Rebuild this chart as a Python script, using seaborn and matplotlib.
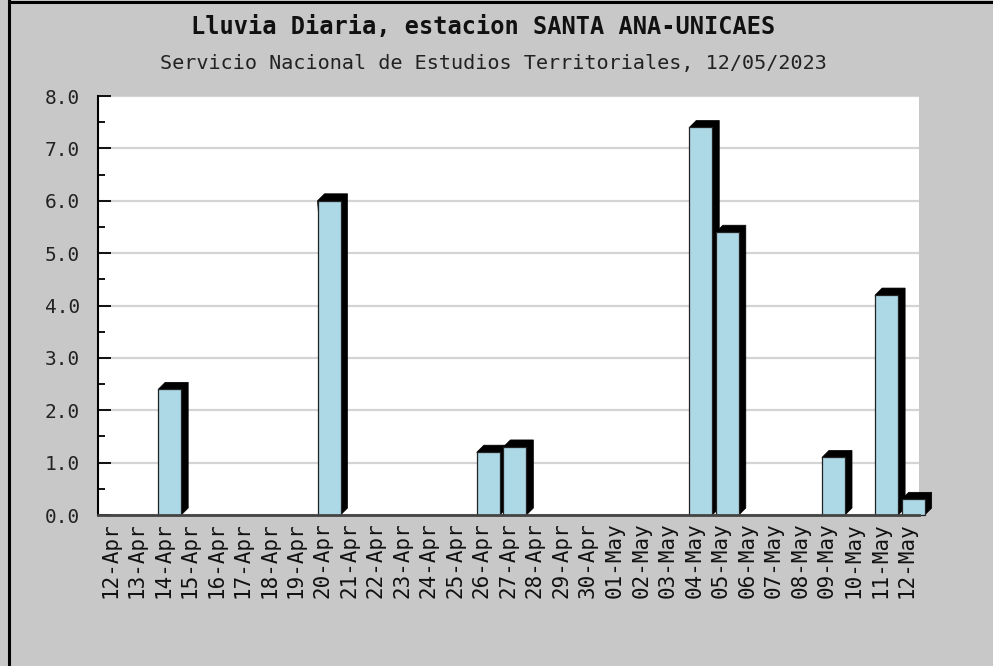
import numpy as np
import matplotlib
matplotlib.use("Agg")
import matplotlib.pyplot as plt
from matplotlib.patches import Polygon
from matplotlib.lines import Line2D
import seaborn as sns

# daily rain, 12-Apr .. 12-May 2023
dates = ["12-Apr", "13-Apr", "14-Apr", "15-Apr", "16-Apr", "17-Apr", "18-Apr",
         "19-Apr", "20-Apr", "21-Apr", "22-Apr", "23-Apr", "24-Apr", "25-Apr",
         "26-Apr", "27-Apr", "28-Apr", "29-Apr", "30-Apr", "01-May", "02-May",
         "03-May", "04-May", "05-May", "06-May", "07-May", "08-May", "09-May",
         "10-May", "11-May", "12-May"]
rain = [0.0, 0.0, 2.4, 0.0, 0.0, 0.0, 0.0,
        0.0, 6.0, 0.0, 0.0, 0.0, 0.0, 0.0,
        1.2, 1.3, 0.0, 0.0, 0.0, 0.0, 0.0,
        0.0, 7.4, 5.4, 0.0, 0.0, 0.0, 1.1,
        0.0, 4.2, 0.3]
yticks = [0, 1, 2, 3, 4, 5, 6, 7, 8]

title = "Lluvia Diaria, estacion SANTA ANA-UNICAES"
subtitle = "Servicio Nacional de Estudios Territoriales, 12/05/2023"

sns.set_style("white")
plt.rcParams['font.family'] = ['DejaVu Sans Mono', 'DejaVu Sans']

bg = "#c8c8c8"
fig = plt.figure(figsize=(9.93, 6.66), dpi=100, facecolor=bg)
ax = fig.add_axes([0.0987, 0.2267, 0.8268, 0.6291])
ax.set_facecolor("white")

sns.barplot(x=dates, y=rain, color="#add8e6", saturation=1, width=0.866,
            edgecolor="#222222", linewidth=0.9, ax=ax, zorder=3)

xmin, xmax = -0.70, 30.22
ax.set_xlim(xmin, xmax)
ax.set_ylim(0, 8)

# fake 3d block behind each bar (about 7 px right / up)
ax_w = 0.8268 * 993
ax_h = 0.6291 * 666
dx = 7 / (ax_w / (xmax - xmin))
dy = 7 / (ax_h / 8)
for p in ax.patches:
    h = p.get_height()
    p.set_clip_on(False)
    if h <= 0:
        continue
    x0 = p.get_x()
    x1 = x0 + p.get_width()
    shade = Polygon([(x0, h), (x0 + dx, h + dy), (x1 + dx, h + dy),
                     (x1 + dx, dy), (x1, 0)], closed=True,
                    facecolor="black", edgecolor="black", lw=0.5,
                    zorder=2.5, clip_on=False)
    ax.add_patch(shade)

ax.set_axisbelow(True)
ax.yaxis.grid(True, color="#d4d4d4", lw=1.6)
ax.xaxis.grid(False)

ax.set_yticks(yticks)
ax.set_yticklabels([f"{v:.1f}" for v in yticks])
ax.set_yticks(np.arange(0.5, 8, 1.0), minor=True)
ax.tick_params(axis="y", which="major", direction="in", length=9, width=1.3,
               color="black", pad=13, labelsize=14, labelcolor="#222222",
               left=True)
ax.tick_params(axis="y", which="minor", direction="in", length=5, width=1.3,
               color="black", left=True)

ax.set_xticks(np.arange(len(dates)) - 0.245)
ax.set_xticklabels(dates, rotation=90, va="top", ha="center")
ax.tick_params(axis="x", length=0, pad=5, labelsize=15, labelcolor="#111111")

for s in ["top", "right"]:
    ax.spines[s].set_visible(False)
ax.spines["left"].set_color("black")
ax.spines["left"].set_linewidth(1.5)
ax.spines["bottom"].set_color("#444444")
ax.spines["bottom"].set_linewidth(2)
ax.spines["bottom"].set_zorder(4)
ax.set_xlabel("")
ax.set_ylabel("")

fig.text(0.487, 0.959, title, ha="center", va="center", fontsize=17,
         fontweight="bold", color="#111111")
fig.text(0.497, 0.904, subtitle, ha="center", va="center", fontsize=14.5,
         color="#222222")

# frame lines of the image
fig.add_artist(Line2D([0.0095, 0.0095], [0, 1], color="black", lw=2.2,
                      transform=fig.transFigure))
fig.add_artist(Line2D([0.0095, 1], [0.997, 0.997], color="black", lw=2.2,
                      transform=fig.transFigure))

fig.savefig("out.png", dpi=100, facecolor=bg)
